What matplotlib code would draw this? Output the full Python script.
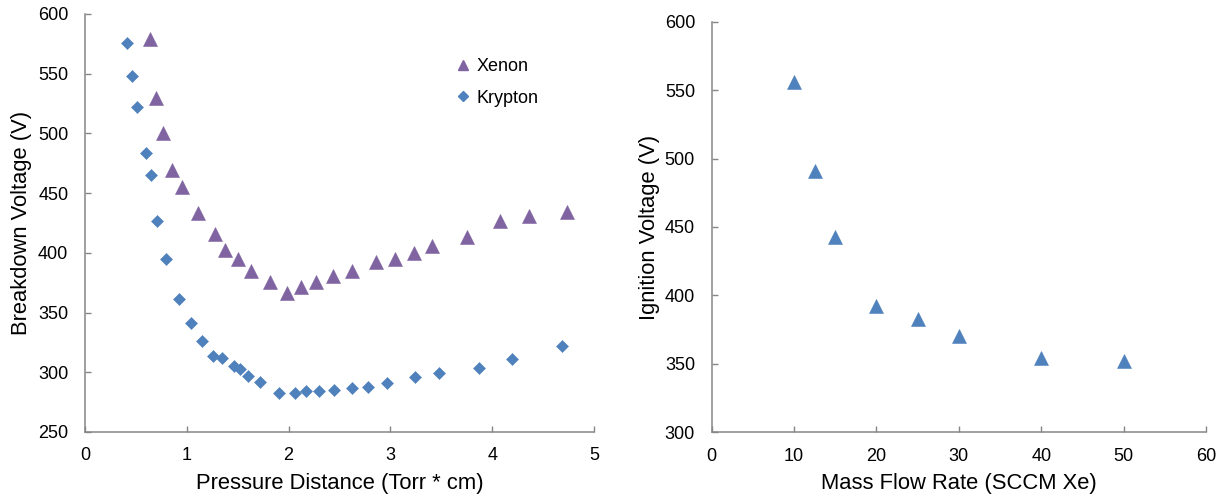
import matplotlib
matplotlib.use("Agg")
import matplotlib.pyplot as plt
from matplotlib.lines import Line2D

plt.rcParams['font.family'] = ['Liberation Sans', 'DejaVu Sans']

# ---- Left chart data: breakdown voltage vs pressure-distance ----
xenon_pd = [0.64, 0.70, 0.77, 0.855, 0.95, 1.11, 1.277, 1.38, 1.50, 1.63, 1.82,
            1.98, 2.12, 2.27, 2.44, 2.62, 2.86, 3.05, 3.23, 3.41, 3.75, 4.08,
            4.36, 4.73]
xenon_v = [579, 530, 500, 469, 455, 433, 416, 402, 395, 385, 376,
           366, 371, 376, 381, 385, 392, 395, 400, 406, 413, 427,
           431, 434]

krypton_pd = [0.41, 0.46, 0.51, 0.60, 0.645, 0.71, 0.80, 0.92, 1.04, 1.15, 1.26,
              1.35, 1.46, 1.52, 1.60, 1.72, 1.91, 2.06, 2.17, 2.30, 2.45, 2.62,
              2.78, 2.97, 3.24, 3.48, 3.87, 4.19, 4.69]
krypton_v = [576, 548, 522, 484, 465, 427, 395, 361, 341, 326, 314,
             312, 305, 303, 297, 292, 283, 283, 284, 284, 285, 287,
             288, 291, 296, 299, 304, 311, 322]

# ---- Right chart data: ignition voltage vs mass flow rate ----
flow_sccm = [10, 12.5, 15, 20, 25, 30, 40, 50]
ignition_v = [556, 491, 443, 392, 383, 370, 354, 352]

left_xticks = [0, 1, 2, 3, 4, 5]
left_yticks = [250, 300, 350, 400, 450, 500, 550, 600]
right_xticks = [0, 10, 20, 30, 40, 50, 60]
right_yticks = [300, 350, 400, 450, 500, 550, 600]

XE_COLOR = '#8064A2'
KR_COLOR = '#4F81BD'
SPINE = '#868686'

fig = plt.figure(figsize=(12.25, 4.96), dpi=100)
ax1 = fig.add_axes([85 / 1225, 1 - 432 / 496, 509 / 1225, 418 / 496])
ax2 = fig.add_axes([711.7 / 1225, 1 - 432.3 / 496, 494.3 / 1225, 410.6 / 496])


def style(ax):
    for s in ['top', 'right']:
        ax.spines[s].set_visible(False)
    for s in ['left', 'bottom']:
        ax.spines[s].set_color(SPINE)
        ax.spines[s].set_linewidth(1.1)
    ax.tick_params(direction='in', length=4, width=1.0, color=SPINE,
                   labelsize=13, labelcolor='black')
    ax.tick_params(axis='x', pad=11)
    ax.tick_params(axis='y', pad=12)


ax1.plot(xenon_pd, xenon_v, linestyle='none', marker='^', markersize=9.5,
         color=XE_COLOR, markeredgecolor=XE_COLOR, markeredgewidth=0.4,
         label='Xenon', clip_on=False)
ax1.plot(krypton_pd, krypton_v, linestyle='none', marker='D', markersize=6.6,
         color=KR_COLOR, markeredgecolor=KR_COLOR, markeredgewidth=0.4,
         label='Krypton', clip_on=False)
ax1.set_xlim(0, 5)
ax1.set_ylim(250, 600)
ax1.set_xticks(left_xticks)
ax1.set_yticks(left_yticks)
style(ax1)
ax1.set_xlabel('Pressure Distance (Torr * cm)', fontsize=15.8, labelpad=6)
ax1.set_ylabel('Breakdown Voltage (V)', fontsize=15.8, labelpad=4)

handles = [Line2D([], [], linestyle='none', marker='^', markersize=7.5,
                  color=XE_COLOR),
           Line2D([], [], linestyle='none', marker='D', markersize=4.8,
                  color=KR_COLOR)]
ax1.legend(handles, ['Xenon', 'Krypton'], loc='upper left',
           bbox_to_anchor=(458 / 1225, 1 - 58 / 496),
           bbox_transform=fig.transFigure, frameon=False, fontsize=13,
           handlelength=0.6, handletextpad=0.45, labelspacing=0.82,
           borderpad=0, borderaxespad=0)

ax2.plot(flow_sccm, ignition_v, linestyle='none', marker='^', markersize=9.5,
         color=KR_COLOR, markeredgecolor=KR_COLOR, markeredgewidth=0.4,
         clip_on=False)
ax2.set_xlim(0, 60)
ax2.set_ylim(300, 600)
ax2.set_xticks(right_xticks)
ax2.set_yticks(right_yticks)
style(ax2)
ax2.set_xlabel('Mass Flow Rate (SCCM Xe)', fontsize=15.8, labelpad=6)
ax2.set_ylabel('Ignition Voltage (V)', fontsize=15.8, labelpad=3)

fig.savefig('out.png', dpi=100)
